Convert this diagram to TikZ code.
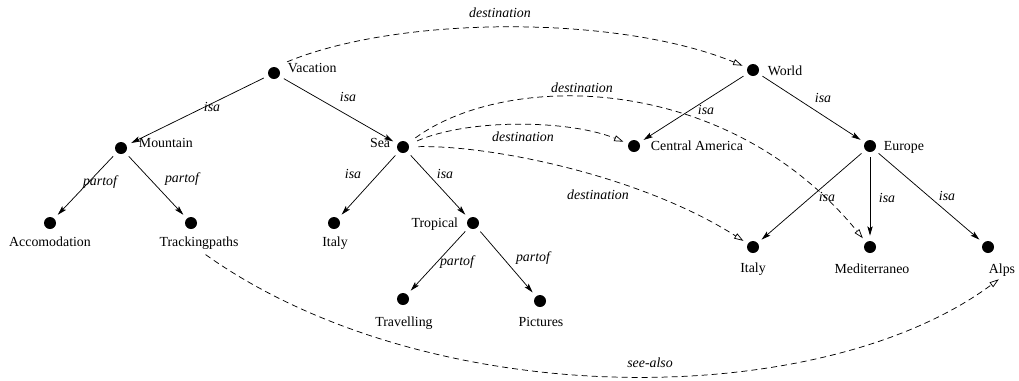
\documentclass[tikz,border=0pt]{standalone}
\usepackage{fontspec}
\setmainfont{Liberation Serif}
\usetikzlibrary{arrows.meta}
\begin{document}
\begin{tikzpicture}[x=0.75pt,y=-0.75pt,
  font=\fontsize{10.4}{12}\selectfont,
  dot/.style={circle,fill=black,inner sep=0pt,minimum size=9pt,outer sep=4pt},
  lbl/.style={inner sep=0.5pt},
  el/.style={font=\fontsize{10.4}{12}\selectfont\itshape,inner sep=0.5pt},
  isa/.style={draw=black,line width=0.55pt,-{Stealth[length=7pt,width=4pt,inset=1.5pt]}},
  dest/.style={draw=black,line width=0.55pt,dash pattern=on 4.5pt off 3pt,
    -{Triangle[open,length=7pt,width=4.5pt,line width=0.55pt]}}]
\useasboundingbox (0,0) rectangle (1019,380);

% dots
\node[dot] (vac) at (274,73) {};
\node[dot] (mnt) at (121,148) {};
\node[dot] (sea) at (403,147) {};
\node[dot] (acc) at (50,223) {};
\node[dot] (trk) at (191,223) {};
\node[dot] (its) at (334,223) {};
\node[dot] (tro) at (473,223) {};
\node[dot] (tra) at (403,299) {};
\node[dot] (pic) at (540,301) {};
\node[dot] (wld) at (753,70) {};
\node[dot] (cam) at (634,146) {};
\node[dot] (eur) at (870,146) {};
\node[dot] (ite) at (753,247) {};
\node[dot] (med) at (870,247) {};
\node[dot] (alp) at (988,247) {};

% labels
\node[lbl,anchor=base west] (vacL) at (287,72) {Vacation};
\node[lbl,anchor=base west] (mntL) at (138,147) {Mountain};
\node[lbl,anchor=base east] (seaL) at (391,147) {Sea};
\node[lbl,anchor=base] (accL) at (50,246) {Accomodation};
\node[lbl,anchor=base] (trkL) at (199,246) {Trackingpaths};
\node[lbl,anchor=base] (itsL) at (335,246) {Italy};
\node[lbl,anchor=base east] (troL) at (459,227) {Tropical};
\node[lbl,anchor=base] (traL) at (404,326) {Travelling};
\node[lbl,anchor=base] (picL) at (541,326) {Pictures};
\node[lbl,anchor=base west] (wldL) at (767,75) {World};
\node[lbl,anchor=base west] (camL) at (650,150) {Central America};
\node[lbl,anchor=base west] (eurL) at (883,150) {Europe};
\node[lbl,anchor=base] (iteL) at (753,272) {Italy};
\node[lbl,anchor=base] (medL) at (872,273) {Mediterraneo};
\node[lbl,anchor=base] (alpL) at (1002,273) {Alps};

% solid isa / partof edges
\draw[isa] (vac) -- (mnt);
\draw[isa] (vac) -- (sea);
\draw[isa] (mnt) -- (acc);
\draw[isa] (mnt) -- (trk);
\draw[isa] (sea) -- (its);
\draw[isa] (sea) -- (tro);
\draw[isa] (tro) -- (tra);
\draw[isa] (tro) -- (pic);
\draw[isa] (wld) -- (cam);
\draw[isa] (wld) -- (eur);
\draw[isa] (eur) -- (ite);
\draw[isa] (eur) -- (med);
\draw[isa] (eur) -- (alp);

% dashed destination / see-also edges
\draw[dest] (vacL.north west) .. controls (400,15) and (620,15) .. (wld);
\draw[dest,shorten <=3pt] (sea) .. controls (505,72) and (725,70) .. (med);
\draw[dest,shorten <=3pt] (sea) .. controls (470,118) and (570,120) .. (cam);
\draw[dest,shorten <=3pt] (sea) .. controls (490,145) and (640,175) .. (ite);
\draw[dest,shorten <=6pt,shorten >=3pt] (trkL.south) .. controls (430,414) and (820,412) .. (alpL.south);

% edge labels
\node[el] (l1) at (500,13) {destination};
\node[el] (l2) at (212,107) {isa};
\node[el] (l3) at (348,97) {isa};
\node[el] (l4) at (100,182) {partof};
\node[el] (l5) at (182,179) {partof};
\node[el] (l6) at (353,174) {isa};
\node[el] (l7) at (445,174) {isa};
\node[el] (l8) at (582,88) {destination};
\node[el] (l9) at (523,137) {destination};
\node[el] (l10) at (598,195) {destination};
\node[el] (l11) at (706,110) {isa};
\node[el] (l12) at (823,98) {isa};
\node[el] (l13) at (827,197) {isa};
\node[el] (l14) at (887,198) {isa};
\node[el] (l15) at (947,196) {isa};
\node[el] (l16) at (457,262) {partof};
\node[el] (l17) at (533,258) {partof};
\node[el] (l18) at (650,363) {see-also};
\end{tikzpicture}
\end{document}
